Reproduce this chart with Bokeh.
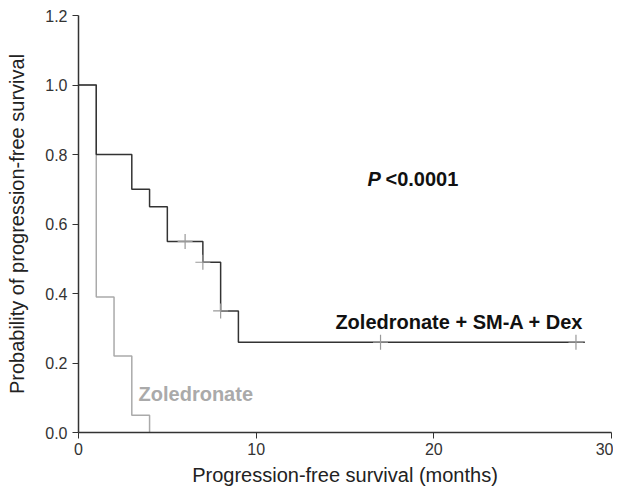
from bokeh.plotting import figure
from bokeh.models import Range1d, Label, FixedTicker, NumeralTickFormatter
from bokeh.embed import file_html
from bokeh.resources import INLINE

# Data
combo_t = [0, 1, 3, 4, 5, 7, 8, 9, 28.5]
combo_s = [1.0, 0.8, 0.7, 0.65, 0.55, 0.49, 0.35, 0.26, 0.26]
combo_cens_t = [6, 7, 8, 17, 28]
combo_cens_s = [0.55, 0.49, 0.35, 0.26, 0.26]
zol_t = [0, 1, 2, 3, 4]
zol_s = [1.0, 0.39, 0.22, 0.05, 0.0]
x_ticks = [0, 10, 20, 30]
y_ticks = [0.0, 0.2, 0.4, 0.6, 0.8, 1.0, 1.2]

FONT = "Liberation Sans"

p = figure(width=613, height=492, output_backend="svg", toolbar_location=None,
           x_range=Range1d(0, 30), y_range=Range1d(0, 1.2),
           min_border_left=78, min_border_right=2, min_border_top=15, min_border_bottom=60)
p.outline_line_color = None
p.xgrid.visible = False
p.ygrid.visible = False

for ax in (p.xaxis[0], p.yaxis[0]):
    ax.axis_line_color = "#333333"
    ax.axis_line_width = 1.5
    ax.major_tick_line_color = "#333333"
    ax.major_tick_out = 6
    ax.major_tick_in = 0
    ax.minor_tick_line_color = None
    ax.major_label_text_font = FONT
    ax.major_label_text_font_size = "16px"
    ax.major_label_text_color = "#333333"
    ax.axis_label_text_font = FONT
    ax.axis_label_text_font_size = "20px"
    ax.axis_label_text_font_style = "normal"
    ax.axis_label_text_color = "#222222"

p.xaxis.ticker = FixedTicker(ticks=x_ticks)
p.yaxis.ticker = FixedTicker(ticks=y_ticks)
p.yaxis.formatter = NumeralTickFormatter(format="0.0")
p.xaxis.axis_label = "Progression-free survival (months)"
p.yaxis.axis_label = "Probability of progression-free survival"
p.xaxis.major_label_standoff = 4
p.xaxis.axis_label_standoff = 6
p.yaxis.axis_label_standoff = 14

p.step(zol_t, zol_s, mode="after", line_color="#aaaaaa", line_width=1.5)
p.step(combo_t, combo_s, mode="after", line_color="#333333", line_width=1.5)
p.scatter(combo_cens_t, combo_cens_s, marker="cross", size=15, line_color="#999999", line_width=1.2)

p.add_layout(Label(x=16.26, y=0.729, text="P", text_font=FONT, text_font_size="20px",
                   text_font_style="bold italic", text_color="#111111", text_baseline="middle"))
p.add_layout(Label(x=17.28, y=0.729, text="<0.0001", text_font=FONT, text_font_size="20px",
                   text_font_style="bold", text_color="#111111", text_baseline="middle"))
p.add_layout(Label(x=14.46, y=0.317, text="Zoledronate + SM-A + Dex", text_font=FONT,
                   text_font_size="20px", text_font_style="bold", text_color="#111111",
                   text_baseline="middle"))
p.add_layout(Label(x=3.38, y=0.112, text="Zoledronate", text_font=FONT,
                   text_font_size="20px", text_font_style="bold", text_color="#aaaaaa",
                   text_baseline="middle"))

open("out.html", "w").write(file_html(p, INLINE))
